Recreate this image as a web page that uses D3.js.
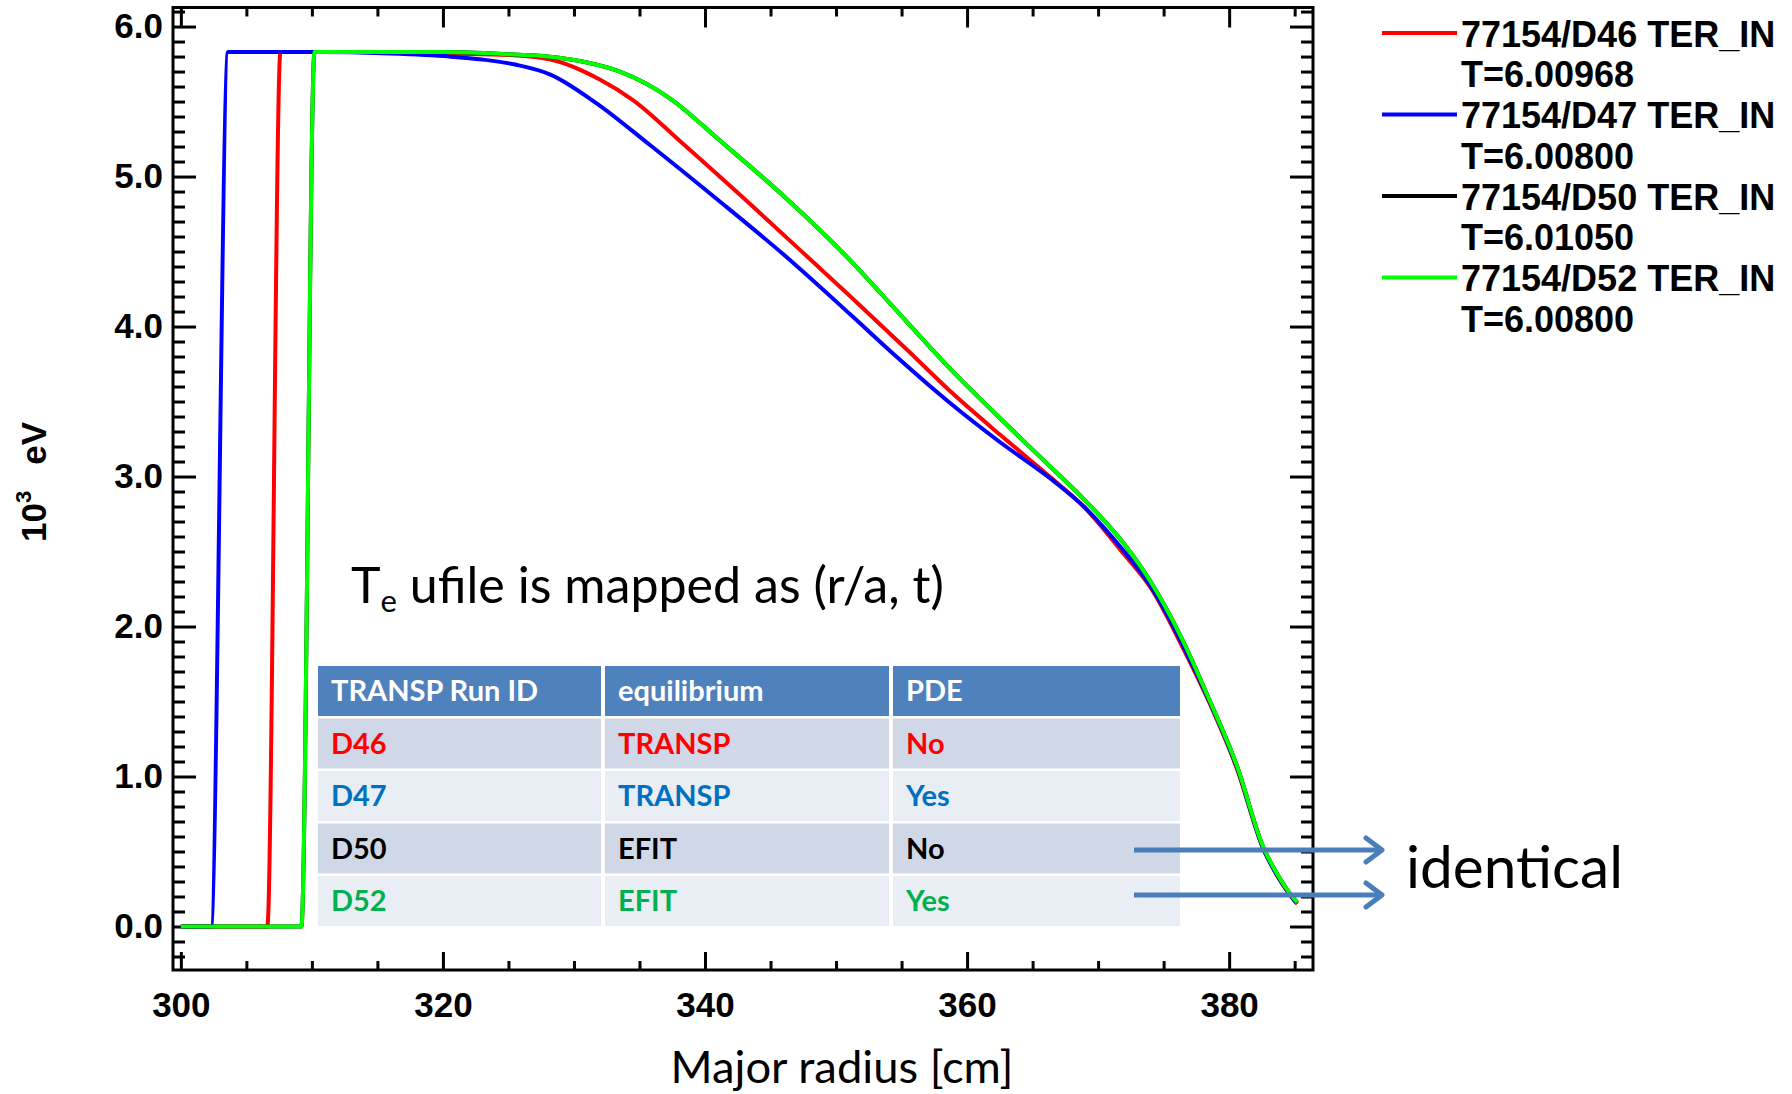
<!DOCTYPE html>
<meta charset="utf-8" />
<style>
  body {
    margin: 0px;
    padding: 0px;
    background: #fff;
  }
  svg {
    display: block;
  }
  .axis text {
    font-family: "Liberation Sans", Arial, sans-serif;
    font-weight: bold;
    font-size: 35px;
    fill: #000;
  }
  .axis line {
    stroke: #000;
    stroke-width: 3px;
  }
  .axis .domain {
    display: none;
  }
  .series {
    fill: none;
    stroke-width: 4px;
    stroke-linejoin: round;
  }
  .legend text {
    font-family: "Liberation Sans", Arial, sans-serif;
    font-weight: bold;
    font-size: 36px;
  }
  .cal {
    font-family: Lato, "Open Sans", sans-serif;
  }
</style>

<svg width="1792" height="1094"></svg>

<script src="https://d3js.org/d3.v7.min.js"></script>
<script>
  // Te profiles vs major radius (10^3 eV)
  const r_d46 = [300.0, 306.6, 307.6, 315, 320.5, 325, 328.2, 332.0, 334.5, 338.3, 343.4, 348.5, 351.1, 355.6, 358.7, 362.5, 366.3, 368.9, 371.9, 374.0, 376.4, 378.5, 380.6, 382.6, 383.6, 385.0, 385.2];
  const te_d46 = [0, 0, 5.83, 5.83, 5.82, 5.81, 5.78, 5.645, 5.51, 5.22, 4.82, 4.41, 4.2, 3.83, 3.57, 3.28, 3.0, 2.8, 2.49, 2.26, 1.87, 1.49, 1.05, 0.52, 0.35, 0.17, 0.15];

  const r_d47 = [300.0, 302.3, 303.6, 310, 316, 320.5, 323, 325.6, 328.2, 331.7, 335.8, 340.9, 346.0, 351.1, 354.6, 358.7, 362.5, 366.3, 368.9, 371.9, 374.0, 376.5, 378.5, 380.6, 382.6, 383.6, 385.1];
  const te_d47 = [0, 0, 5.83, 5.83, 5.82, 5.8, 5.78, 5.745, 5.68, 5.49, 5.21, 4.85, 4.48, 4.08, 3.8, 3.49, 3.23, 2.99, 2.8, 2.51, 2.27, 1.87, 1.5, 1.06, 0.52, 0.35, 0.16];

  const r_d50 = [300.0, 309.2, 310.2, 315, 320, 325, 328, 331, 333.5, 335.5, 337.5, 341, 346, 351.1, 355, 358.7, 362.5, 366.3, 368.9, 371.9, 374.0, 376.5, 378.5, 380.6, 382.6, 383.6, 385.0, 385.2];
  const te_d50 = [0, 0, 5.83, 5.83, 5.83, 5.815, 5.8, 5.76, 5.7, 5.62, 5.51, 5.25, 4.87, 4.44, 4.07, 3.72, 3.39, 3.07, 2.85, 2.56, 2.3, 1.9, 1.51, 1.07, 0.53, 0.36, 0.18, 0.16];

  const r_d52 = [300.0, 309.2, 310.2, 315, 320, 325, 328, 331, 333.5, 335.5, 337.5, 341, 346, 351.1, 355, 358.7, 362.5, 366.3, 368.9, 371.9, 374.0, 376.5, 378.5, 380.6, 382.6, 383.6, 385.0, 385.2];
  const te_d52 = [0, 0, 5.83, 5.83, 5.83, 5.815, 5.8, 5.76, 5.7, 5.62, 5.51, 5.25, 4.87, 4.44, 4.07, 3.72, 3.39, 3.07, 2.85, 2.56, 2.3, 1.9, 1.51, 1.07, 0.53, 0.36, 0.18, 0.16];

  const seriesNames = ["77154/D46 TER_IN", "77154/D47 TER_IN", "77154/D50 TER_IN", "77154/D52 TER_IN"];
  const seriesTimes = ["T=6.00968", "T=6.00800", "T=6.01050", "T=6.00800"];
  const seriesColors = ["#ff0000", "#0000ff", "#000000", "#00ff00"];

  const xMajor = [300, 320, 340, 360, 380];
  const yMajor = [0, 1, 2, 3, 4, 5, 6];

  // table
  const tableHeader = ["TRANSP Run ID", "equilibrium", "PDE"];
  const runIds = ["D46", "D47", "D50", "D52"];
  const equilibria = ["TRANSP", "TRANSP", "EFIT", "EFIT"];
  const pdeUsed = ["No", "Yes", "No", "Yes"];
  const rowTextColors = ["#ff0000", "#0070c0", "#000000", "#00b050"];

  const svg = d3.select("svg");

  const x = d3.scaleLinear().domain([299.4, 386.4]).range([173, 1313]);
  const y = d3.scaleLinear().domain([-0.29, 6.127]).range([970, 7.5]);

  const xMinor = d3.range(300, 387, 5).filter((d) => !xMajor.includes(d));
  const yMinor = d3
    .range(-2, 62)
    .filter((i) => i % 10 !== 0)
    .map((i) => i / 10);

  const x0 = 173,
    x1 = 1313,
    y0 = 970,
    y1 = 7.5;

  // axes, ticks pointing inward
  svg
    .append("g")
    .attr("class", "axis")
    .attr("transform", `translate(0,${y0})`)
    .call(d3.axisBottom(x).tickValues(xMajor).tickSize(-18).tickPadding(22).tickFormat(d3.format("d")));
  svg
    .append("g")
    .attr("class", "axis")
    .attr("transform", `translate(0,${y0})`)
    .call(d3.axisBottom(x).tickValues(xMinor).tickSize(-9).tickFormat(""));
  svg
    .append("g")
    .attr("class", "axis")
    .attr("transform", `translate(0,${y1})`)
    .call(d3.axisTop(x).tickValues(xMajor).tickSize(-20).tickFormat(""));
  svg
    .append("g")
    .attr("class", "axis")
    .attr("transform", `translate(0,${y1})`)
    .call(d3.axisTop(x).tickValues(xMinor).tickSize(-9).tickFormat(""));

  svg
    .append("g")
    .attr("class", "axis")
    .attr("transform", `translate(${x0},0)`)
    .call(d3.axisLeft(y).tickValues(yMajor).tickSize(-23).tickPadding(10).tickFormat(d3.format(".1f")));
  svg
    .append("g")
    .attr("class", "axis")
    .attr("transform", `translate(${x0},0)`)
    .call(d3.axisLeft(y).tickValues(yMinor).tickSize(-12).tickFormat(""));
  svg
    .append("g")
    .attr("class", "axis")
    .attr("transform", `translate(${x1},0)`)
    .call(d3.axisRight(y).tickValues(yMajor).tickSize(-23).tickFormat(""));
  svg
    .append("g")
    .attr("class", "axis")
    .attr("transform", `translate(${x1},0)`)
    .call(d3.axisRight(y).tickValues(yMinor).tickSize(-12).tickFormat(""));

  svg
    .append("rect")
    .attr("x", x0)
    .attr("y", y1)
    .attr("width", x1 - x0)
    .attr("height", y0 - y1)
    .attr("fill", "none")
    .attr("stroke", "#000")
    .attr("stroke-width", 3);

  // curves
  const line = d3
    .line()
    .x((d) => x(d[0]))
    .y((d) => y(d[1]))
    .curve(d3.curveMonotoneX);

  const allSeries = [
    d3.zip(r_d46, te_d46),
    d3.zip(r_d47, te_d47),
    d3.zip(r_d50, te_d50),
    d3.zip(r_d52, te_d52),
  ];

  svg
    .append("g")
    .selectAll("path")
    .data(allSeries)
    .enter()
    .append("path")
    .attr("class", "series")
    .attr("stroke", (d, i) => seriesColors[i])
    .attr("d", line);

  // legend
  const legend = svg.append("g").attr("class", "legend");
  seriesNames.forEach((name, i) => {
    const ly = 33 + 81.5 * i;
    legend
      .append("line")
      .attr("x1", 1382)
      .attr("x2", 1457)
      .attr("y1", ly)
      .attr("y2", ly)
      .attr("stroke", seriesColors[i])
      .attr("stroke-width", 4);
    legend.append("text").attr("x", 1461).attr("y", ly + 13.5).text(name);
    legend.append("text").attr("x", 1461).attr("y", ly + 54).text(seriesTimes[i]);
  });

  // axis titles
  const yt = svg
    .append("text")
    .attr("transform", "translate(46,482) rotate(-90)")
    .attr("text-anchor", "middle")
    .style("font-family", '"Liberation Sans", Arial, sans-serif')
    .style("font-weight", "bold")
    .style("font-size", "35px");
  yt.append("tspan").text("10");
  yt.append("tspan").attr("dy", -15).style("font-size", "22px").text("3");
  yt.append("tspan").attr("dy", 15).attr("dx", 26).text("eV");

  function fit(t, w) {
    const len = t.node().getComputedTextLength();
    const fs = parseFloat(t.style("font-size"));
    t.style("font-size", (fs * w) / len + "px");
  }

  const xt = svg
    .append("text")
    .attr("class", "cal")
    .attr("x", 842)
    .attr("y", 1083)
    .attr("text-anchor", "middle")
    .style("font-size", "42px")
    .text("Major radius [cm]");
  fit(xt, 343);

  const note = svg.append("text").attr("class", "cal").attr("x", 351).attr("y", 603).style("font-size", "48px");
  note.append("tspan").text("T");
  note.append("tspan").attr("dy", "0.28em").style("font-size", "0.62em").text("e");
  note.append("tspan").attr("dy", "-0.174em").text(" ufile is mapped as (r/a, t)");
  fit(note, 593);

  // table
  const colX = [318, 605, 893];
  const colW = [283, 284, 287];
  const rowY = [666, 718.5, 771, 823.5, 876];
  const cellH = 50;
  const table = svg.append("g");
  const rows = [tableHeader].concat(runIds.map((d, i) => [d, equilibria[i], pdeUsed[i]]));
  rows.forEach((row, ri) => {
    const fill = ri === 0 ? "#4f81bd" : ri % 2 === 1 ? "#d0d8e8" : "#e9edf4";
    row.forEach((cell, ci) => {
      table
        .append("rect")
        .attr("x", colX[ci])
        .attr("y", rowY[ri])
        .attr("width", colW[ci])
        .attr("height", cellH)
        .attr("fill", fill);
      table
        .append("text")
        .attr("class", "cal")
        .attr("x", colX[ci] + 13)
        .attr("y", rowY[ri] + cellH / 2)
        .attr("dy", "0.36em")
        .style("font-size", "29px")
        .style("font-weight", "bold")
        .attr("fill", ri === 0 ? "#fff" : rowTextColors[ri - 1])
        .text(cell);
    });
  });

  // arrows to "identical"
  const arrowColor = "#4a7ebb";
  [850, 895].forEach((ay) => {
    svg
      .append("line")
      .attr("x1", 1134)
      .attr("x2", 1380)
      .attr("y1", ay)
      .attr("y2", ay)
      .attr("stroke", arrowColor)
      .attr("stroke-width", 5);
    svg
      .append("path")
      .attr("d", `M1366,${ay - 12}L1382,${ay}L1366,${ay + 12}`)
      .attr("fill", "none")
      .attr("stroke", arrowColor)
      .attr("stroke-width", 5)
      .attr("stroke-linecap", "round")
      .attr("stroke-linejoin", "round");
  });

  const ident = svg.append("text").attr("class", "cal").attr("x", 1406).attr("y", 888).style("font-size", "56px").text("identical");
  fit(ident, 217);
</script>
